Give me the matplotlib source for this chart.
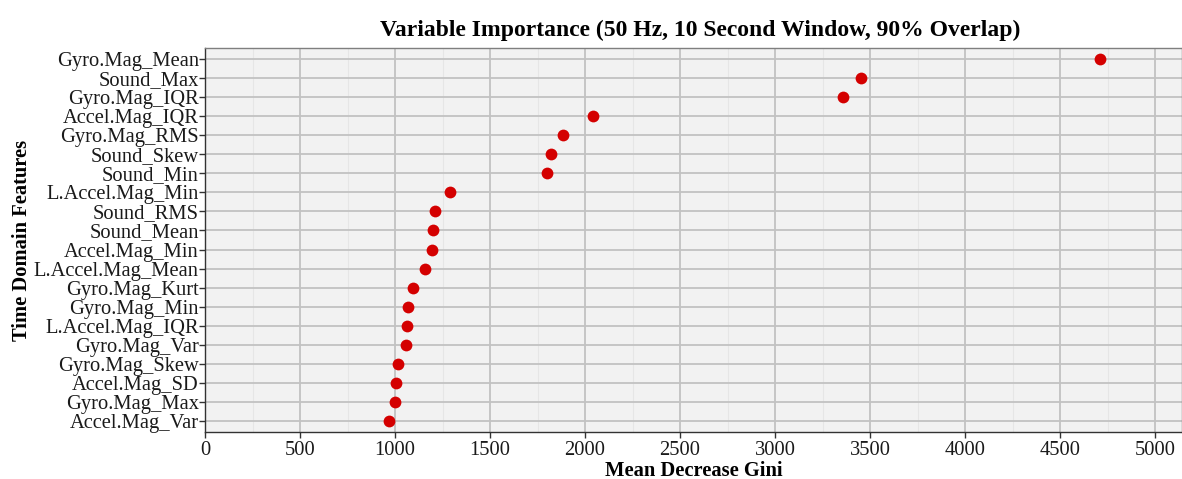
import matplotlib
matplotlib.use("Agg")
import matplotlib.pyplot as plt
from matplotlib.ticker import MultipleLocator

features = ["Gyro.Mag_Mean", "Sound_Max", "Gyro.Mag_IQR", "Accel.Mag_IQR", "Gyro.Mag_RMS",
            "Sound_Skew", "Sound_Min", "L.Accel.Mag_Min", "Sound_RMS", "Sound_Mean",
            "Accel.Mag_Min", "L.Accel.Mag_Mean", "Gyro.Mag_Kurt", "Gyro.Mag_Min",
            "L.Accel.Mag_IQR", "Gyro.Mag_Var", "Gyro.Mag_Skew", "Accel.Mag_SD",
            "Gyro.Mag_Max", "Accel.Mag_Var"]
gini = [4710, 3453, 3358, 2042, 1886, 1821, 1800, 1291, 1211, 1202,
        1195, 1158, 1095, 1068, 1063, 1058, 1016, 1005, 1000, 968]
xticks = [0, 500, 1000, 1500, 2000, 2500, 3000, 3500, 4000, 4500, 5000]

plt.rcParams['font.family'] = ['Liberation Serif', 'DejaVu Serif']

fig = plt.figure(figsize=(11.82, 4.79), dpi=100)
ax = fig.add_axes([205/1182, 1 - 432.4/479, 1 - 205/1182, (432.4 - 47.6)/479])
ax.set_facecolor('#F2F2F2')

n = len(features)
ypos = list(range(n - 1, -1, -1))
ax.scatter(gini, ypos, s=72, color='#D40000', zorder=3, linewidths=0)

ax.set_ylim(-0.6, n - 1 + 0.6)
ax.set_yticks(ypos)
ax.set_yticklabels(features)
ax.set_xlim(0, 5142)
ax.set_xticks(xticks)
ax.set_xticklabels([str(t) for t in xticks])
ax.xaxis.set_minor_locator(MultipleLocator(250))

ax.grid(which='major', color='#C2C2C2', linewidth=1.3, zorder=0)
ax.grid(which='minor', axis='x', color='#E6E6E6', linewidth=0.8, zorder=0)
ax.set_axisbelow(True)

for s in ['top', 'right']:
    ax.spines[s].set_color('#7F7F7F')
    ax.spines[s].set_linewidth(1.0)
for s in ['left', 'bottom']:
    ax.spines[s].set_color('#333333')
    ax.spines[s].set_linewidth(1.0)

ax.tick_params(axis='both', which='major', labelsize=14.8, colors='#333333',
               labelcolor='#1A1A1A', length=4, width=1)
ax.tick_params(axis='y', which='major', pad=0.5)
ax.tick_params(axis='x', which='major', pad=2)
ax.tick_params(axis='x', which='minor', length=0)

ax.set_title("Variable Importance (50 Hz, 10 Second Window, 90% Overlap)",
             fontsize=17, fontweight='bold', pad=8, x=0.507)
ax.set_xlabel("Mean Decrease Gini", fontsize=14.8, fontweight='bold', labelpad=1)
ax.set_ylabel("Time Domain Features", fontsize=14.8, fontweight='bold', labelpad=1)

fig.savefig("out.png", dpi=100)
